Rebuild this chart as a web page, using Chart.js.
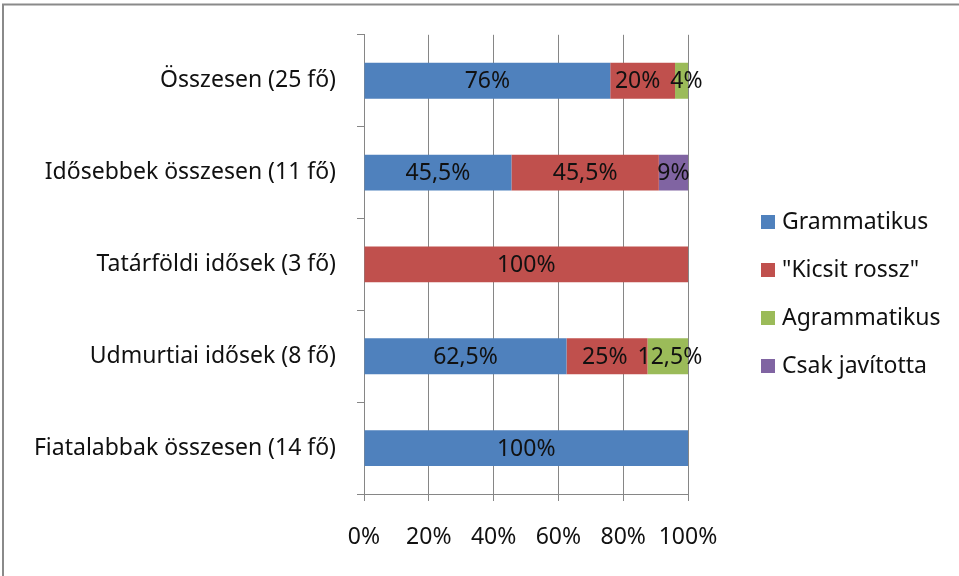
<!DOCTYPE html>
<html>
<head>
<meta charset="utf-8">
<script src="https://cdn.jsdelivr.net/npm/chart.js@4"></script>
<style>
html,body{margin:0;padding:0;background:#fff;}
#wrap{position:relative;width:959px;height:576px;}
</style>
</head>
<body>
<div id="wrap"><canvas id="c" width="959" height="576"></canvas></div>
<script>
const categories = ["Összesen (25 fő)", "Idősebbek összesen (11 fő)", "Tatárföldi idősek (3 fő)", "Udmurtiai idősek (8 fő)", "Fiatalabbak összesen (14 fő)"];
const seriesNames = ["Grammatikus", "\"Kicsit rossz\"", "Agrammatikus", "Csak javította"];
const grammatikus = [76, 45.5, 0, 62.5, 100];
const kicsitRossz = [20, 45.5, 100, 25, 0];
const agrammatikus = [4, 0, 0, 12.5, 0];
const csakJavitotta = [0, 9, 0, 0, 0];
const xTicks = [0, 20, 40, 60, 80, 100];
const colors = ["#4F81BD", "#C0504D", "#9BBB59", "#8064A2"];

const FONT = "'Noto Sans', sans-serif";
const FS = 23;
const TXT = "#111111";

const fmt = v => String(v).replace('.', ',') + '%';

const labelPlugin = {
  id: 'segLabels',
  afterDatasetsDraw(chart) {
    const ctx = chart.ctx;
    ctx.save();
    ctx.font = FS + "px " + FONT;
    ctx.fillStyle = TXT;
    ctx.textAlign = 'center';
    ctx.textBaseline = 'middle';
    const n = chart.data.labels.length;
    for (let i = 0; i < n; i++) {
      const items = [];
      chart.data.datasets.forEach((ds, di) => {
        const v = ds.data[i];
        if (!v) return;
        const bar = chart.getDatasetMeta(di).data[i];
        const t = fmt(v);
        items.push({ t, cx: (bar.x + bar.base) / 2, w: ctx.measureText(t).width, y: bar.y });
      });
      // push apart overlapping neighbours
      const gap = 10;
      for (let k = 1; k < items.length; k++) {
        const a = items[k - 1], b = items[k];
        const need = (a.w / 2 + b.w / 2 + gap) - (b.cx - a.cx);
        if (need > 0) { a.cx -= need / 2; b.cx += need / 2; }
      }
      items.forEach(it => ctx.fillText(it.t, it.cx, it.y + 1));
    }
    ctx.restore();
  }
};

const legendPlugin = {
  id: 'sideLegend',
  afterDraw(chart) {
    const ctx = chart.ctx;
    ctx.save();
    ctx.font = FS + "px " + FONT;
    ctx.textBaseline = 'middle';
    ctx.textAlign = 'left';
    const x0 = 761, y0 = 222, step = 48, box = 14;
    chart.data.datasets.forEach((ds, i) => {
      const y = y0 + i * step;
      ctx.fillStyle = ds.backgroundColor;
      ctx.fillRect(x0, y - box / 2, box, box);
      ctx.fillStyle = TXT;
      ctx.fillText(ds.label, x0 + 21, y);
    });
    ctx.restore();
  }
};

const borderPlugin = {
  id: 'outerBorder',
  afterDraw(chart) {
    const ctx = chart.ctx;
    ctx.save();
    ctx.strokeStyle = '#8a8a8a';
    ctx.lineWidth = 2;
    ctx.beginPath();
    ctx.moveTo(3, 600);
    ctx.lineTo(3, 4.5);
    ctx.lineTo(980, 4.5);
    ctx.stroke();
    ctx.restore();
  }
};

const seriesData = [grammatikus, kicsitRossz, agrammatikus, csakJavitotta];

new Chart(document.getElementById('c'), {
  type: 'bar',
  data: {
    labels: categories,
    datasets: seriesNames.map((n, i) => ({
      label: n,
      data: seriesData[i],
      backgroundColor: colors[i],
      borderWidth: 0,
      categoryPercentage: 1,
      barPercentage: 0.39
    }))
  },
  options: {
    indexAxis: 'y',
    responsive: false,
    animation: false,
    devicePixelRatio: 1,
    layout: { padding: { top: 33, left: 10, right: 271, bottom: 0 } },
    plugins: {
      legend: { display: false },
      tooltip: { enabled: false }
    },
    scales: {
      x: {
        stacked: true,
        min: 0, max: 100,
        afterBuildTicks(scale) { scale.ticks = xTicks.map(v => ({ value: v })); },
        afterFit(scale) { scale.height = 82; },
        grid: { color: '#868686', lineWidth: 1, drawTicks: true, tickLength: 7, tickColor: '#868686' },
        border: { display: true, color: '#868686', width: 1 },
        ticks: { color: TXT, font: { family: FONT, size: FS }, padding: 23, callback: v => v + '%', maxRotation: 0 }
      },
      y: {
        stacked: true,
        afterFit(scale) { scale.width = 354; },
        grid: { display: true, offset: true, drawOnChartArea: false, drawTicks: true, tickLength: 7, tickColor: '#868686', color: '#868686' },
        border: { display: true, color: '#868686', width: 1 },
        ticks: { color: TXT, font: { family: FONT, size: FS }, padding: 21 }
      }
    }
  },
  plugins: [labelPlugin, legendPlugin, borderPlugin]
});
</script>
</body>
</html>
